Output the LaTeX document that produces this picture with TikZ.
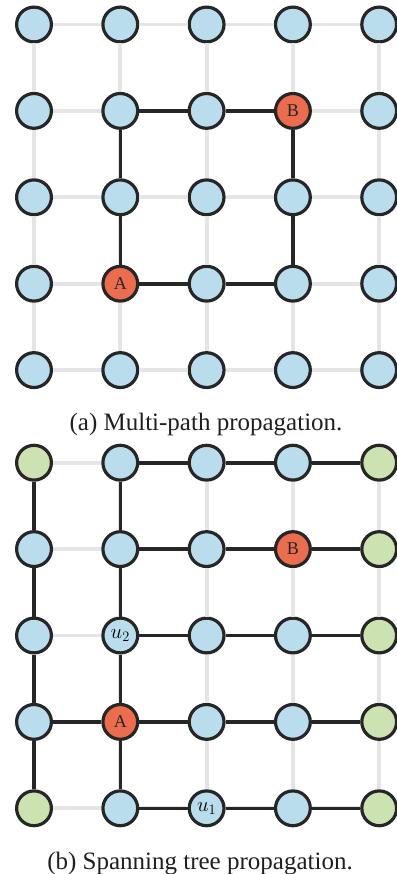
\documentclass[tikz,border=0pt]{standalone}
\usepackage{fontspec}
\setmainfont{Liberation Serif}
\definecolor{nblue}{RGB}{185,221,236}
\definecolor{nred}{RGB}{236,108,78}
\definecolor{ngreen}{RGB}{204,226,176}
\definecolor{ngray}{RGB}{229,229,229}
\definecolor{ndark}{RGB}{38,38,38}
\begin{document}
\begin{tikzpicture}[x=1pt,y=-1pt,
  vtx/.style={circle,draw=ndark,line width=3.2pt,minimum size=34.8pt,inner sep=0pt,
    fill=nblue,text=ndark,font=\fontsize{18}{18}\selectfont},
  gline/.style={ngray,line width=3.8pt},
  dline/.style={ndark,line width=3.6pt},
  mlab/.style={font=\fontsize{21}{21}\selectfont},
  captext/.style={anchor=base,inner sep=0pt,text=black!88,font=\fontsize{25}{30}\selectfont}]
\useasboundingbox (0,0) rectangle (396,874);
% ---------- (a) grid ----------
\foreach \r/\row in {
  0/{nblue/{},nblue/{},nblue/{},nblue/{},nblue/{}},
  1/{nblue/{},nblue/{},nblue/{},nred/B,nblue/{}},
  2/{nblue/{},nblue/{},nblue/{},nblue/{},nblue/{}},
  3/{nblue/{},nred/A,nblue/{},nblue/{},nblue/{}},
  4/{nblue/{},nblue/{},nblue/{},nblue/{},nblue/{}}}{
  \foreach \f/\l [count=\c from 0] in \row
    \node[vtx,fill=\f] (a\c\r) at ({34+86.3*\c},{24.5+86.4*\r}) {\l};
}
% ---------- (b) grid ----------
\foreach \r/\row in {
  0/{ngreen/{},nblue/{},nblue/{},nblue/{},ngreen/{}},
  1/{nblue/{},nblue/{},nblue/{},nred/B,ngreen/{}},
  2/{nblue/{},nblue/{},nblue/{},nblue/{},ngreen/{}},
  3/{nblue/{},nred/A,nblue/{},nblue/{},ngreen/{}},
  4/{ngreen/{},nblue/{},nblue/{},nblue/{},ngreen/{}}}{
  \foreach \f/\l [count=\c from 0] in \row
    \node[vtx,fill=\f] (b\c\r) at ({34+86.3*\c},{462.7+86.4*\r}) {\l};
}
\node[mlab] (lu2) at (b12) {$u_2$};
\node[mlab] (lu1) at (b24) {$u_1$};
% gray grid edges
\foreach \g in {a,b}{
  \foreach \i in {0,...,4}{
    \foreach \j [evaluate=\j as \k using int(\j+1)] in {0,...,3}{
      \draw[gline] (\g\j\i) -- (\g\k\i);
      \draw[gline] (\g\i\j) -- (\g\i\k);
    }
  }
}
% (a) multi-path
\draw[dline] (a13) -- (a12) -- (a11) -- (a21) -- (a31);
\draw[dline] (a31) -- (a32) -- (a33);
\draw[dline] (a13) -- (a23) -- (a33);
% (b) spanning tree
\foreach \i in {0,...,4}
  \draw[dline] (b1\i) -- (b2\i) -- (b3\i) -- (b4\i);
\draw[dline] (b03) -- (b13);
\draw[dline] (b00) -- (b01) -- (b02) -- (b03) -- (b04);
\draw[dline] (b10) -- (b11) -- (b12) -- (b13) -- (b14);
% captions
\node[captext] (capa) at (206,430) {(a) Multi-path propagation.};
\node[captext] (capb) at (200,869.5) {(b) Spanning tree propagation.};
\end{tikzpicture}
\end{document}
